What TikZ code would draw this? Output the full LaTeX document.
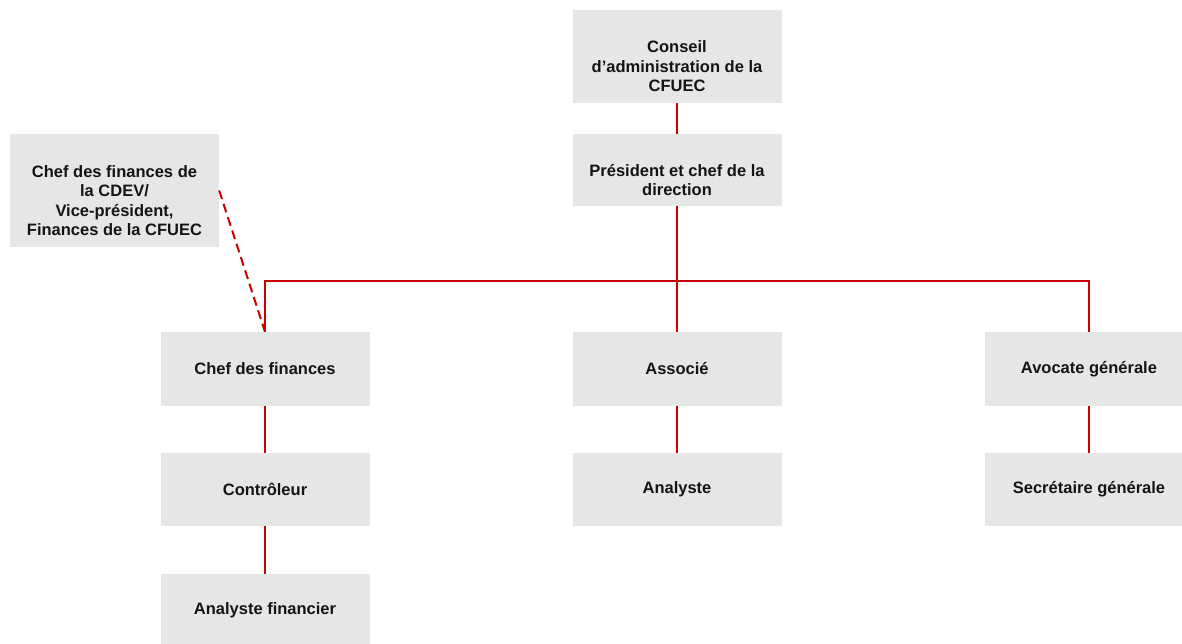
\documentclass[tikz,border=0pt]{standalone}
\usepackage{fontspec}
\setmainfont{Liberation Sans}
\definecolor{linered}{RGB}{200,0,0}
\definecolor{boxgray}{RGB}{230,230,230}
\definecolor{txt}{RGB}{20,20,20}
\begin{document}
\begin{tikzpicture}[x=1pt,y=-1pt,
  orgfont/.style={font=\bfseries\fontsize{16.5}{19.5}\selectfont, text=txt, align=center},
  orgbox/.style={orgfont, fill=boxgray, draw=none, minimum width=209pt, minimum height=73pt, inner sep=0pt},
  multibox/.style={orgbox, label={[orgfont, inner sep=0pt, yshift=-10pt]center:{#1}}},
  link/.style={draw=linered, line width=2pt},
  dotlink/.style={draw=linered, line width=2pt, dash pattern=on 9pt off 5pt}]
\useasboundingbox (0,0) rectangle (1182,643);
\clip (0,0) rectangle (1182,643);
\node[multibox={Conseil\\d’administration de la\\CFUEC}, minimum height=93pt] (conseil) at (677,56.5) {};
\node[multibox={Président et chef de la\\direction}, minimum height=72pt] (pres) at (677,170) {};
\node[multibox={Chef des finances de\\la CDEV/\\Vice-président,\\Finances de la CFUEC}, minimum height=113pt] (cdev) at (114.5,190.5) {};
\node[orgbox, minimum height=74pt] (cf) at (265,369) {Chef des finances};
\node[orgbox, minimum height=74pt] (assoc) at (677,369) {Associé};
\node[orgbox, minimum height=74pt] (avoc) at (1089,369) {Avocate générale};
\node[orgbox] (ctrl) at (265,489.5) {Contrôleur};
\node[orgbox] (anal) at (677,489.5) {Analyste};
\node[orgbox] (sec) at (1089,489.5) {Secrétaire générale};
\node[orgbox] (anfin) at (265,610.5) {Analyste financier};
\coordinate (bus) at (677,281);
\draw[link] (conseil.south) -- (pres.north);
\draw[link] (pres.south) -- (assoc.north);
\draw[link] (cf.north) |- (bus) -| (avoc.north);
\draw[link] (cf.south) -- (ctrl.north);
\draw[link] (ctrl.south) -- (anfin.north);
\draw[link] (assoc.south) -- (anal.north);
\draw[link] (avoc.south) -- (sec.north);
\draw[dotlink] (cdev.east) -- (cf.north);
\end{tikzpicture}
\end{document}
